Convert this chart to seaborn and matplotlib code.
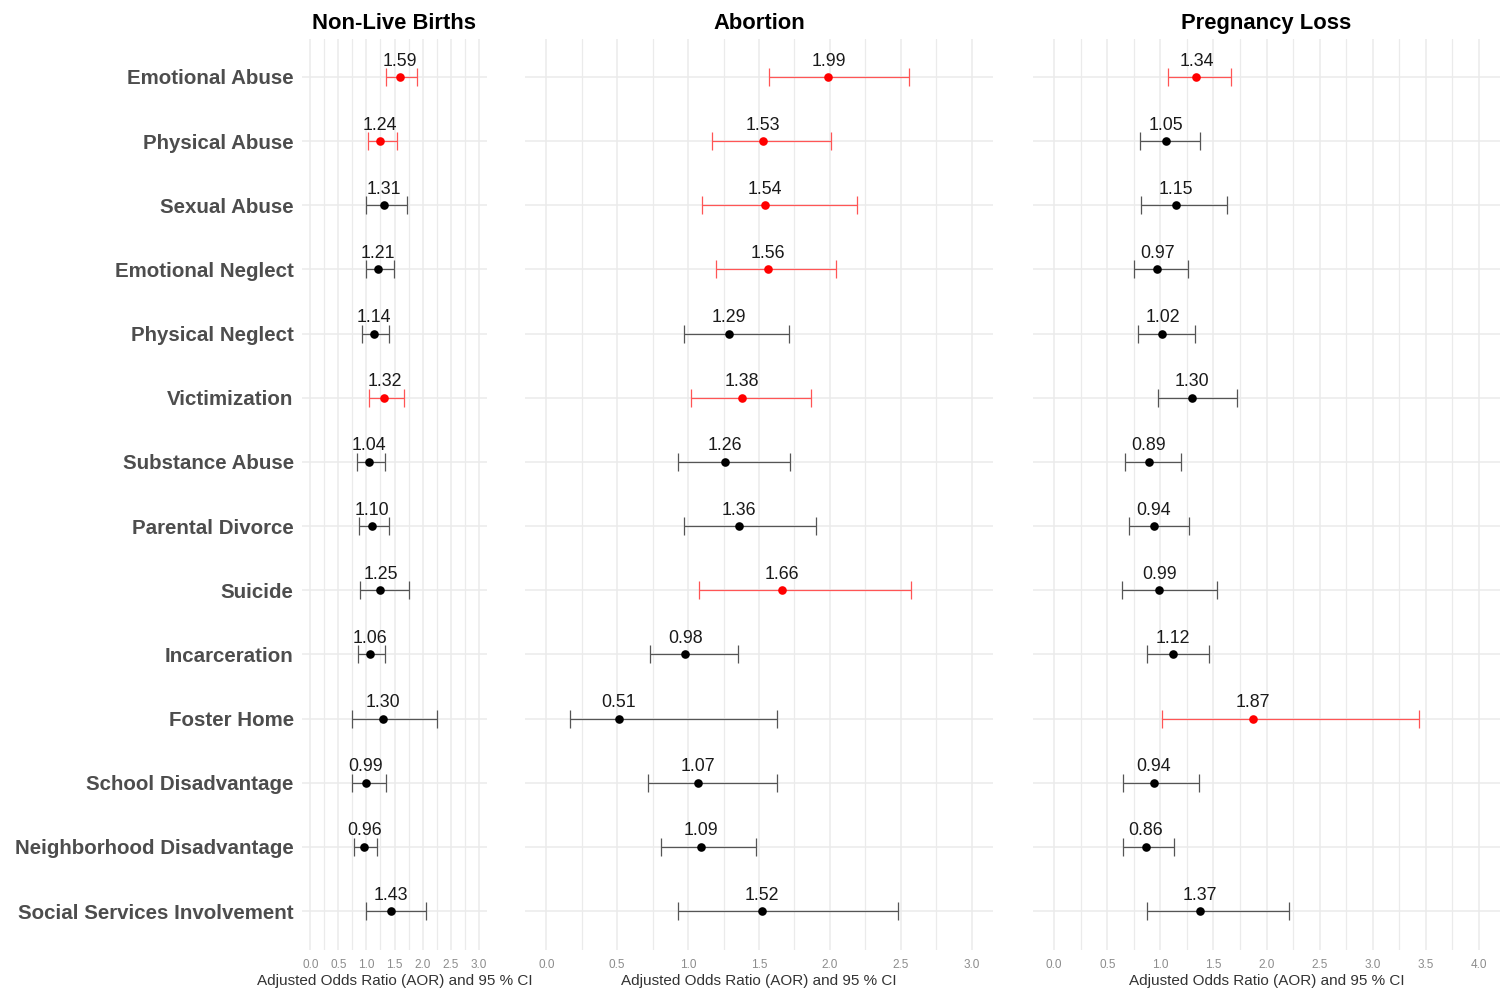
import numpy as np
import pandas as pd
import matplotlib
matplotlib.use("Agg")
import matplotlib.pyplot as plt
from matplotlib.ticker import MultipleLocator
import seaborn as sns

sns.set_theme(style="whitegrid")
plt.rcParams["font.family"] = ["Liberation Sans", "DejaVu Sans"]

categories = [
    "Emotional Abuse", "Physical Abuse", "Sexual Abuse", "Emotional Neglect",
    "Physical Neglect", "Victimization", "Substance Abuse", "Parental Divorce",
    "Suicide", "Incarceration", "Foster Home", "School Disadvantage",
    "Neighborhood Disadvantage", "Social Services Involvement",
]

outcomes = ["Non-Live Births", "Abortion", "Pregnancy Loss"]

# Adjusted odds ratios with lower / upper 95% confidence limits
nlb_aor = [1.59, 1.24, 1.31, 1.21, 1.14, 1.32, 1.04, 1.10, 1.25, 1.06, 1.30, 0.99, 0.96, 1.43]
nlb_lo = [1.34, 1.02, 0.99, 0.99, 0.92, 1.04, 0.83, 0.87, 0.89, 0.85, 0.74, 0.74, 0.77, 0.99]
nlb_hi = [1.91, 1.54, 1.73, 1.49, 1.40, 1.67, 1.33, 1.40, 1.76, 1.33, 2.26, 1.34, 1.19, 2.07]

abo_aor = [1.99, 1.53, 1.54, 1.56, 1.29, 1.38, 1.26, 1.36, 1.66, 0.98, 0.51, 1.07, 1.09, 1.52]
abo_lo = [1.57, 1.17, 1.10, 1.20, 0.97, 1.02, 0.93, 0.97, 1.08, 0.73, 0.17, 0.72, 0.81, 0.93]
abo_hi = [2.56, 2.01, 2.19, 2.04, 1.71, 1.87, 1.72, 1.90, 2.57, 1.35, 1.63, 1.63, 1.48, 2.48]

pl_aor = [1.34, 1.05, 1.15, 0.97, 1.02, 1.30, 0.89, 0.94, 0.99, 1.12, 1.87, 0.94, 0.86, 1.37]
pl_lo = [1.07, 0.81, 0.82, 0.75, 0.79, 0.98, 0.67, 0.70, 0.64, 0.87, 1.02, 0.65, 0.65, 0.87]
pl_hi = [1.67, 1.37, 1.63, 1.26, 1.33, 1.72, 1.19, 1.27, 1.53, 1.46, 3.44, 1.36, 1.13, 2.21]

x_max = [3.0, 3.0, 4.0]

series = {
    "Non-Live Births": (nlb_aor, nlb_lo, nlb_hi),
    "Abortion": (abo_aor, abo_lo, abo_hi),
    "Pregnancy Loss": (pl_aor, pl_lo, pl_hi),
}

frames = []
for name, (aor, lo, hi) in series.items():
    frames.append(pd.DataFrame({
        "outcome": name, "category": categories,
        "aor": aor, "lo": lo, "hi": hi,
    }))
df = pd.concat(frames, ignore_index=True)
df["significant"] = np.where(df["lo"] > 1.0, "yes", "no")

W, H = 1501, 992
fig = plt.figure(figsize=(W / 100, H / 100), dpi=100)
fig.patch.set_facecolor("white")

panel_px = [(302, 487), (525, 993), (1033, 1500)]
top_px, bot_px = 38.5, 949.5

point_colors = {"yes": "#FF0000", "no": "#000000"}
bar_colors = {"yes": "#FF5555", "no": "#555555"}
grid_col = "#EBEBEB"

for i, (name, (x0, x1)) in enumerate(zip(outcomes, panel_px)):
    ax = fig.add_axes([x0 / W, 1 - bot_px / H, (x1 - x0) / W, (bot_px - top_px) / H])
    sub = df[df["outcome"] == name].reset_index(drop=True)

    sns.stripplot(
        data=sub, x="aor", y="category", hue="significant", order=categories,
        palette=point_colors, jitter=False, size=6.2, linewidth=0,
        legend=False, ax=ax, zorder=4,
    )

    ypos = {c: k for k, c in enumerate(categories)}
    for _, r in sub.iterrows():
        y = ypos[r["category"]]
        ax.errorbar(
            r["aor"], y, xerr=[[r["aor"] - r["lo"]], [r["hi"] - r["aor"]]],
            fmt="none", ecolor=bar_colors[r["significant"]], elinewidth=0.9,
            capsize=6.6, capthick=0.9, zorder=3,
        )
        ax.annotate(
            f"{r['aor']:.2f}", (r["aor"], y), xytext=(0, 11.5),
            textcoords="offset points", ha="center", va="center",
            fontsize=12.8, color="#1A1A1A", zorder=5,
        )

    ax.set_xlim(-0.05 * x_max[i], x_max[i] * 1.05)
    ax.set_ylim(len(categories) - 0.4, -0.6)
    ax.xaxis.set_major_locator(MultipleLocator(0.5))
    ax.xaxis.set_minor_locator(MultipleLocator(0.25))
    ax.set_xticklabels([f"{v:.1f}" for v in ax.get_xticks()])
    ax.set_xlim(-0.05 * x_max[i], x_max[i] * 1.05)

    ax.set_facecolor("white")
    for s in ax.spines.values():
        s.set_visible(False)
    ax.grid(True, which="major", axis="both", color=grid_col, linewidth=1.1)
    ax.grid(True, which="minor", axis="x", color=grid_col, linewidth=0.9)
    ax.set_axisbelow(True)
    ax.tick_params(axis="both", which="both", length=0)
    ax.tick_params(axis="x", labelsize=8.5, labelcolor="#8C8C8C", pad=7)

    if i == 0:
        ax.tick_params(axis="y", labelsize=14.8, labelcolor="#4D4D4D", pad=6)
        for lab in ax.get_yticklabels():
            lab.set_fontweight("bold")
    else:
        ax.set_yticklabels([])

    ax.set_ylabel("")
    ax.set_xlabel("Adjusted Odds Ratio (AOR) and 95 % CI", fontsize=11,
                  color="#333333", labelpad=2)
    ax.set_title(name, fontsize=15.8, fontweight="bold", color="black", pad=7)

fig.savefig("out.png", dpi=100, facecolor="white")
